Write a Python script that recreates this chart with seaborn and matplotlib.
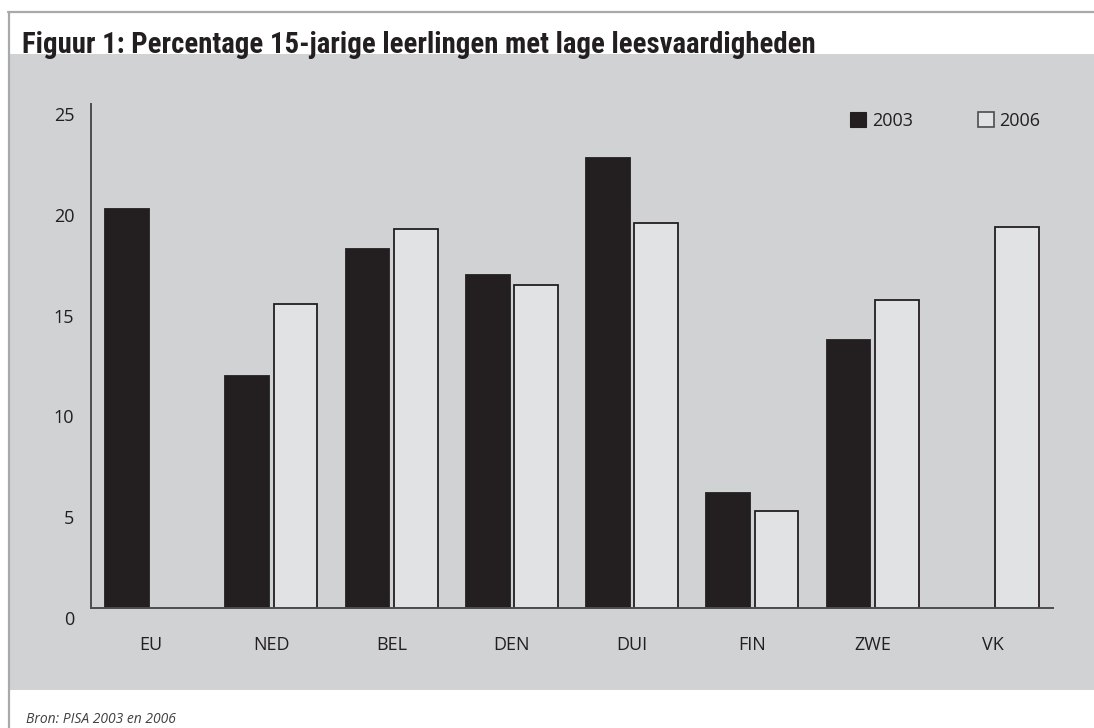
import numpy as np
import pandas as pd
import matplotlib
matplotlib.use("Agg")
import matplotlib.pyplot as plt
import seaborn as sns
from matplotlib.patches import Rectangle, Patch
from matplotlib.lines import Line2D
from matplotlib.transforms import ScaledTranslation

# ---- data ----
countries = ["EU", "NED", "BEL", "DEN", "DUI", "FIN", "ZWE", "VK"]
years = ["2003", "2006"]
values_2003 = [19.8, 11.5, 17.8, 16.5, 22.3, 5.7, 13.3, np.nan]
values_2006 = [np.nan, 15.1, 18.8, 16.0, 19.1, 4.8, 15.3, 18.9]
y_ticks = [0, 5, 10, 15, 20, 25]
title = "Figuur 1: Percentage 15-jarige leerlingen met lage leesvaardigheden"
source = "Bron: PISA 2003 en 2006"

df = pd.DataFrame({
    "land": countries * 2,
    "jaar": ["2003"] * len(countries) + ["2006"] * len(countries),
    "pct": values_2003 + values_2006,
})

# ---- style ----
sns.set_style("white")
TXT = "#231f20"
PANEL = "#d1d2d4"
BORDER = "#a7a9ac"
DARK = "#231f20"
LIGHT = "#e1e2e4"
plt.rcParams["font.family"] = ["Open Sans", "DejaVu Sans"]
plt.rcParams["text.color"] = TXT
plt.rcParams["xtick.color"] = TXT
plt.rcParams["ytick.color"] = TXT

W, H = 1094, 728
fig = plt.figure(figsize=(W / 100, H / 100), dpi=100)
fig.patch.set_facecolor("white")

# grey panel and frame lines
fig.patches.append(Rectangle((10 / W, 1 - 690 / H), 1, (690 - 54) / H,
                             transform=fig.transFigure, facecolor=PANEL,
                             edgecolor="none", zorder=-10))
fig.lines.append(Line2D([8 / W, 1], [1 - 11.5 / H, 1 - 11.5 / H],
                        transform=fig.transFigure, color=BORDER, lw=1.6, zorder=-5))
fig.lines.append(Line2D([8.5 / W, 8.5 / W], [0, 1 - 11.5 / H],
                        transform=fig.transFigure, color=BORDER, lw=1.6, zorder=-5))

ax = fig.add_axes([91 / W, 1 - 608 / H, (1053 - 91) / W, (608 - 104) / H])
ax.set_facecolor("none")

sns.barplot(data=df, x="land", y="pct", hue="jaar", order=countries,
            hue_order=years, palette=[DARK, LIGHT], width=0.8, gap=0.09,
            edgecolor=DARK, linewidth=1.3, saturation=1, ax=ax, legend=False)

ax.set_xlim(-0.5, len(countries) - 0.5)
ax.set_ylim(0, 25)
ax.set_xlabel("")
ax.set_ylabel("")

for s in ["top", "right"]:
    ax.spines[s].set_visible(False)
for s in ["left", "bottom"]:
    ax.spines[s].set_color("#4d4d4f")
    ax.spines[s].set_linewidth(1.4)

ax.set_yticks(y_ticks)
ax.set_yticklabels([str(t) for t in y_ticks])
ax.tick_params(axis="y", length=0, pad=12, labelsize=13)
ax.tick_params(axis="x", which="major", length=0, pad=20, labelsize=13)
ax.set_xticks(np.arange(-0.5, len(countries)), minor=True)
ax.tick_params(axis="x", which="minor", direction="in", length=8.6,
               width=1.3, color="#4d4d4f")

off = ScaledTranslation(0, -10 / 100, fig.dpi_scale_trans)
for lab in ax.get_yticklabels():
    lab.set_transform(lab.get_transform() + off)

handles = [Patch(facecolor=DARK, edgecolor=DARK, linewidth=0.8),
           Patch(facecolor=LIGHT, edgecolor="#4d4d4f", linewidth=1.2)]
ax.legend(handles, years, ncol=2, frameon=False, fontsize=13,
          handlelength=0.88, handleheight=0.88, handletextpad=0.3,
          columnspacing=3.6, loc="upper right", borderpad=0,
          bbox_to_anchor=(1049 / W, 1 - 103 / H),
          bbox_transform=fig.transFigure)

fig.text(22 / W, 1 - 53 / H, title, ha="left", va="baseline",
         fontsize=20.7, fontweight="bold",
         family=["Roboto Condensed", "Liberation Sans Narrow", "Roboto", "DejaVu Sans"],
         color=TXT)
fig.text(26 / W, 1 - 712 / H, source, ha="left", va="top", fontsize=10,
         style="italic", color="#414042")

fig.savefig("out.png", dpi=100)
